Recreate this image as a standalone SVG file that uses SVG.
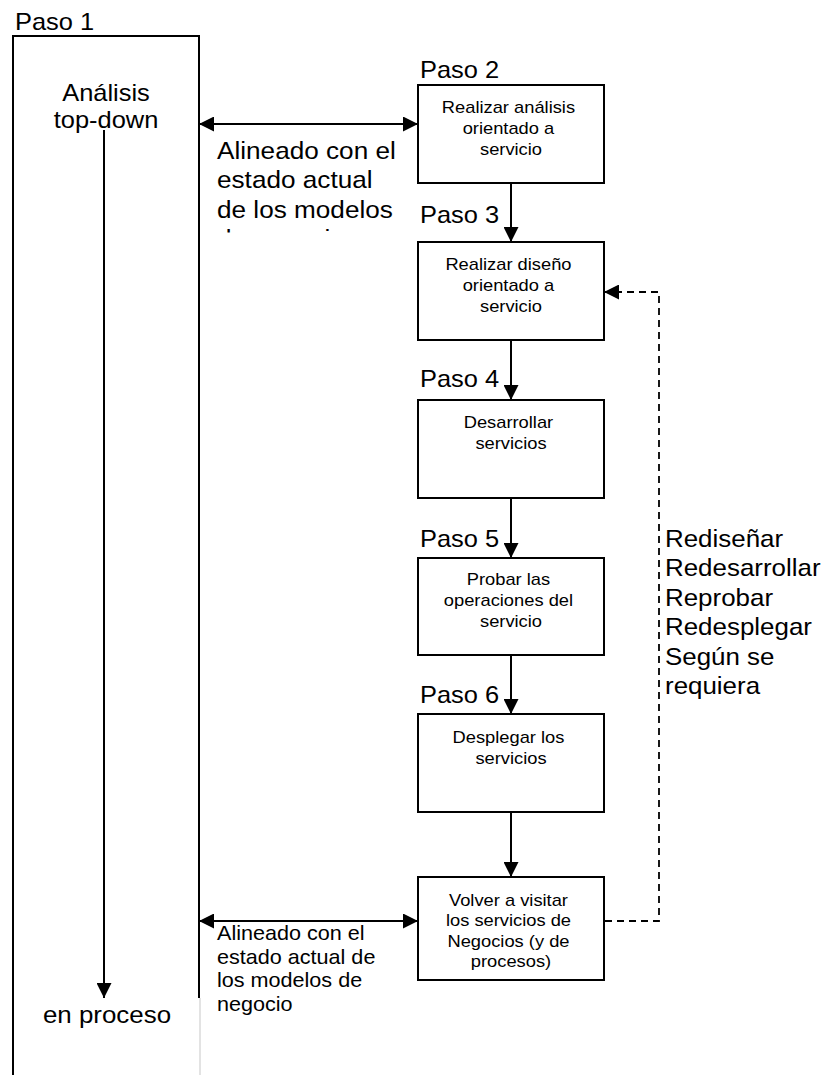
<svg xmlns="http://www.w3.org/2000/svg" width="831" height="1075" viewBox="0 0 831 1075">
  <style>
    text { font-family: "Liberation Sans", Arial, sans-serif; fill: #000; }
    .big { font-size: 24px; }
    .mid { font-size: 20px; }
    .box-text { font-size: 16.8px; }
    .box { fill: #fff; stroke: #000; stroke-width: 2; }
    .edge { fill: none; stroke: #000; stroke-width: 2; }
    .dash { fill: none; stroke: #000; stroke-width: 1.8; stroke-dasharray: 7 5; }
  </style>
  <defs>
    <marker id="head" viewBox="0 0 15 15" refX="15" refY="7.5" markerWidth="15" markerHeight="15" markerUnits="userSpaceOnUse" orient="auto-start-reverse">
      <path d="M0,0 L15,7.5 L0,15 z" fill="#000"/>
    </marker>
    <clipPath id="note-clip" clipPathUnits="userSpaceOnUse">
      <rect x="205" y="130" width="210" height="102.5"/>
    </clipPath>
  </defs>

  <!-- Paso 1: top-down analysis column -->
  <g id="paso1">
    <text class="big" transform="translate(15 30) scale(1.06 1)">Paso 1</text>
    <path class="edge" d="M13,1075 V36 H199 V998"/>
    <line x1="200" y1="998" x2="200" y2="1075" stroke="#d0d0d0" stroke-width="1.2"/>
    <text class="big" text-anchor="middle" transform="translate(106 101) scale(1.06 1)">Análisis</text>
    <text class="big" text-anchor="middle" transform="translate(106 128) scale(1.06 1)">top-down</text>
    <text class="big" text-anchor="middle" transform="translate(107 1023) scale(1.08 1)">en proceso</text>
  </g>

  <!-- alignment notes -->
  <g id="note-top" clip-path="url(#note-clip)">
    <text class="big" transform="translate(217 159) scale(1.09 1)">
      <tspan x="0" y="0">Alineado con el</tspan>
      <tspan x="0" y="29.5">estado actual</tspan>
      <tspan x="0" y="59">de los modelos</tspan>
      <tspan x="0" y="88.5">de negocio</tspan>
    </text>
  </g>
  <g id="note-bottom">
    <text class="mid" transform="translate(217 940) scale(1.08 1)">
      <tspan x="0" y="0">Alineado con el</tspan>
      <tspan x="0" y="23.7">estado actual de</tspan>
      <tspan x="0" y="47.4">los modelos de</tspan>
      <tspan x="0" y="71.1">negocio</tspan>
    </text>
  </g>

  <!-- step boxes -->
  <g id="paso2">
    <text class="big" transform="translate(420 78) scale(1.06 1)">Paso 2</text>
    <rect class="box" x="418" y="85" width="186" height="98"/>
    <text class="box-text" text-anchor="middle" transform="translate(511 113) scale(1.09 1)">
      <tspan x="0" y="0">Realizar análisis</tspan>
      <tspan x="0" y="21">orientado a</tspan>
      <tspan x="0" y="42">servicio</tspan>
    </text>
  </g>
  <g id="paso3">
    <text class="big" transform="translate(420 223) scale(1.06 1)">Paso 3</text>
    <rect class="box" x="418" y="242" width="186" height="98"/>
    <text class="box-text" text-anchor="middle" transform="translate(511 270) scale(1.09 1)">
      <tspan x="0" y="0">Realizar diseño</tspan>
      <tspan x="0" y="21">orientado a</tspan>
      <tspan x="0" y="42">servicio</tspan>
    </text>
  </g>
  <g id="paso4">
    <text class="big" transform="translate(420 387) scale(1.06 1)">Paso 4</text>
    <rect class="box" x="418" y="400" width="186" height="98"/>
    <text class="box-text" text-anchor="middle" transform="translate(511 428) scale(1.09 1)">
      <tspan x="0" y="0">Desarrollar</tspan>
      <tspan x="0" y="21">servicios</tspan>
    </text>
  </g>
  <g id="paso5">
    <text class="big" transform="translate(420 547) scale(1.06 1)">Paso 5</text>
    <rect class="box" x="418" y="558" width="186" height="97"/>
    <text class="box-text" text-anchor="middle" transform="translate(511 585) scale(1.09 1)">
      <tspan x="0" y="0">Probar las</tspan>
      <tspan x="0" y="21">operaciones del</tspan>
      <tspan x="0" y="42">servicio</tspan>
    </text>
  </g>
  <g id="paso6">
    <text class="big" transform="translate(420 703) scale(1.06 1)">Paso 6</text>
    <rect class="box" x="418" y="714" width="186" height="98"/>
    <text class="box-text" text-anchor="middle" transform="translate(511 743) scale(1.09 1)">
      <tspan x="0" y="0">Desplegar los</tspan>
      <tspan x="0" y="21">servicios</tspan>
    </text>
  </g>
  <g id="revisit">
    <rect class="box" x="418" y="877" width="186" height="103"/>
    <text class="box-text" text-anchor="middle" transform="translate(511 906) scale(1.09 1)">
      <tspan x="0" y="0">Volver a visitar</tspan>
      <tspan x="0" y="20.5">los servicios de</tspan>
      <tspan x="0" y="41">Negocios (y de</tspan>
      <tspan x="0" y="61.5">procesos)</tspan>
    </text>
  </g>

  <!-- iteration note -->
  <g id="iterate-note">
    <text class="big" transform="translate(665 547) scale(1.08 1)">
      <tspan x="0" y="0">Rediseñar</tspan>
      <tspan x="0" y="29.5">Redesarrollar</tspan>
      <tspan x="0" y="59">Reprobar</tspan>
      <tspan x="0" y="88.5">Redesplegar</tspan>
      <tspan x="0" y="118">Según se</tspan>
      <tspan x="0" y="147.5">requiera</tspan>
    </text>
  </g>

  <!-- connectors -->
  <g id="connectors">
    <line class="edge" x1="199" y1="124" x2="418" y2="124" marker-start="url(#head)" marker-end="url(#head)"/>
    <line class="edge" x1="199" y1="921" x2="418" y2="921" marker-start="url(#head)" marker-end="url(#head)"/>
    <line class="edge" x1="104" y1="130" x2="104" y2="998" marker-end="url(#head)"/>
    <line class="edge" x1="511" y1="183" x2="511" y2="242" marker-end="url(#head)"/>
    <line class="edge" x1="511" y1="340" x2="511" y2="400" marker-end="url(#head)"/>
    <line class="edge" x1="511" y1="498" x2="511" y2="558" marker-end="url(#head)"/>
    <line class="edge" x1="511" y1="655" x2="511" y2="714" marker-end="url(#head)"/>
    <line class="edge" x1="511" y1="812" x2="511" y2="877" marker-end="url(#head)"/>
    <polyline class="dash" points="605,921 659,921 659,292 604,292" marker-end="url(#head)"/>
  </g>
</svg>
